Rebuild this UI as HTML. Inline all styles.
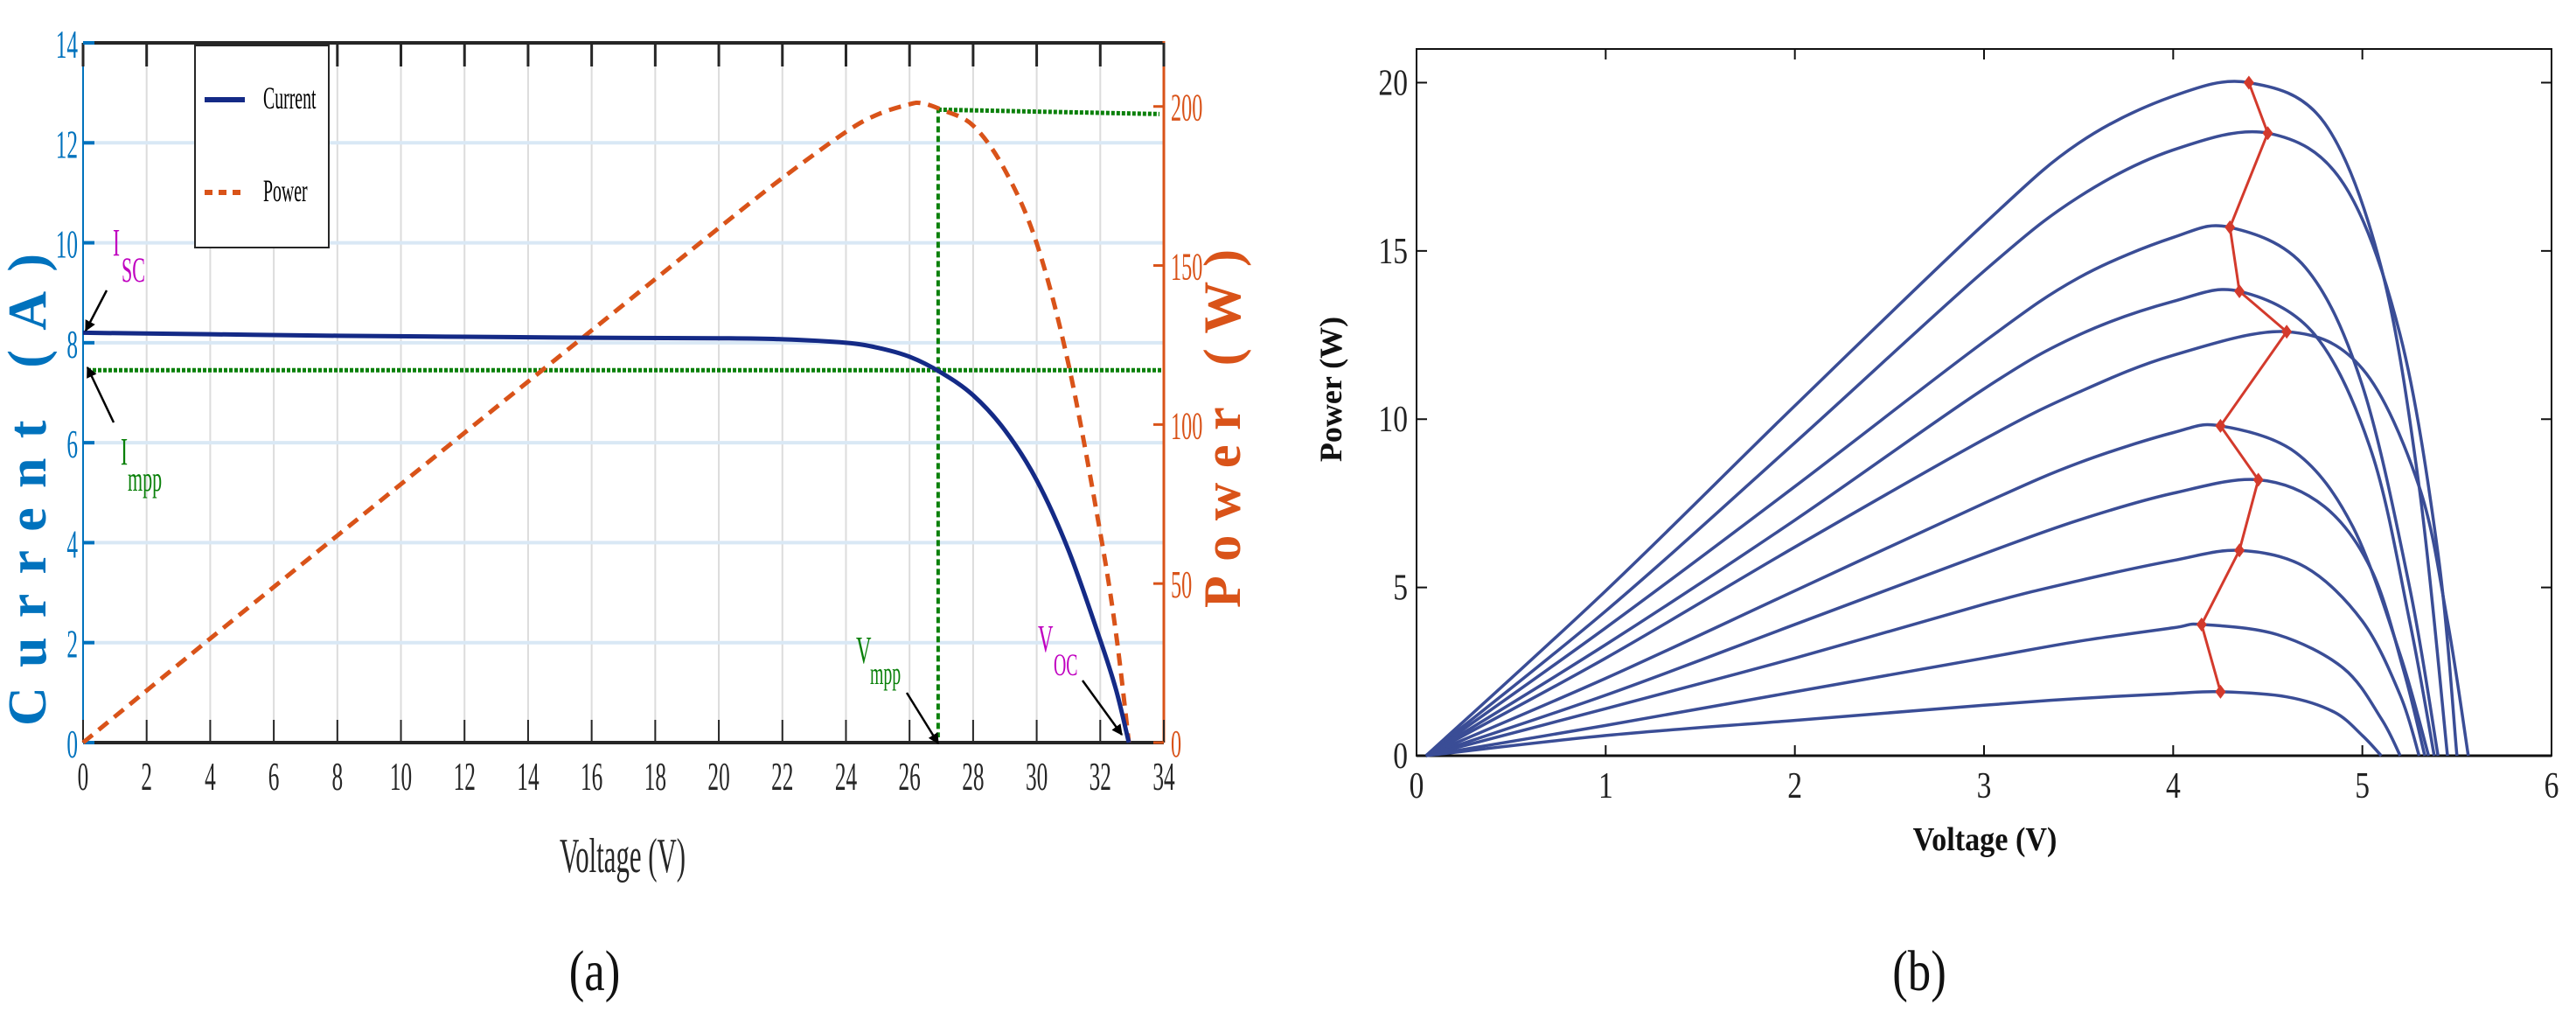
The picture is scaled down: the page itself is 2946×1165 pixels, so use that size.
<!DOCTYPE html>
<html><head><meta charset="utf-8"><style>
html,body{margin:0;padding:0;background:#fff;}
svg{display:block;}
text{font-family:"Liberation Serif",serif;}
</style></head><body>
<svg id="fig" width="2946" height="1165" viewBox="0 0 2946 1165" xmlns="http://www.w3.org/2000/svg">
<g id="chartA"></g>
<g id="chartB"></g>
</svg>
<script>
// ---------- Chart (a) data ----------
const aCurV = [0,4,8,12,16,20,22,24,25,26,27,28,29,30,31,32,32.5,32.9];
const aCurI = [8.2,8.17,8.14,8.12,8.1,8.09,8.07,8.0,7.9,7.72,7.4,6.95,6.25,5.25,3.85,2.05,1.05,0];
const aPowV = [0,4,8,12,16,20,22,24,25,26,26.4,27,28,29,30,31,32,32.5,32.9];
const aPowP = [0,32.7,65.1,97.4,129.6,161.8,177.5,192,197.5,200.7,201,199,194,180,157,119,66,34,0];
const aXTicks = [0,2,4,6,8,10,12,14,16,18,20,22,24,26,28,30,32,34];
const aYTicks = [0,2,4,6,8,10,12,14];
const aY2Ticks = [0,50,100,150,200];
const aImpp = [7.45];
const aVmpp = [26.9];
const aPmpp = [199];
// ---------- Chart (b) data ----------
const bCurveV = [
 [0.05,1,2,3,3.5,4,4.4,4.8,5.1,5.3,5.45],
 [0.05,1,2,3,3.5,4,4.5,4.9,5.2,5.4,5.5],
 [0.05,1,2,3,3.5,4,4.3,4.7,5.0,5.25,5.4],
 [0.05,1,2,3,3.5,4,4.35,4.75,5.05,5.25,5.38],
 [0.05,1,2,3,3.5,4,4.6,5.0,5.3,5.45,5.56],
 [0.05,1,2,3,3.5,4,4.25,4.65,4.95,5.2,5.35],
 [0.05,1,2,3,3.5,4,4.45,4.8,5.05,5.22,5.33],
 [0.05,1,2,3,3.5,4,4.35,4.7,5.0,5.2,5.3],
 [0.05,1,2,3,3.5,4,4.15,4.55,4.9,5.1,5.2],
 [0.05,1,2,3,3.5,4,4.25,4.6,4.85,5.0,5.1]
];
const bCurveP = [
 [0,4.9,10.4,15.8,18.2,19.6,20,18.8,14.5,8,0],
 [0,4.3,9.3,14.4,16.6,18,18.5,17,12.5,6,0],
 [0,3.8,8.0,12.3,14.2,15.4,15.7,14.5,11,5,0],
 [0,3.3,7.0,10.9,12.5,13.5,13.8,12.5,9,4,0],
 [0,2.9,6.2,9.4,10.8,11.9,12.6,11.5,8,4,0],
 [0,2.3,4.9,7.5,8.7,9.6,9.8,9,6.8,3,0],
 [0,1.8,3.9,6.0,7.0,7.8,8.2,7.4,5.5,2.5,0],
 [0,1.4,2.9,4.5,5.2,5.8,6.1,5.6,4.0,1.8,0],
 [0,0.9,1.9,2.9,3.4,3.8,3.9,3.6,2.6,1.1,0],
 [0,0.6,1.05,1.5,1.7,1.85,1.9,1.75,1.3,0.6,0]
];
const bMppV = [4.4,4.5,4.3,4.35,4.6,4.25,4.45,4.35,4.15,4.25];
const bMppP = [20,18.5,15.7,13.8,12.6,9.8,8.2,6.1,3.9,1.9];
const bXTicks = [0,1,2,3,4,5,6];
const bYTicks = [0,5,10,15,20];

const NS = "http://www.w3.org/2000/svg";
function mk(tag, attrs, parent){ const e=document.createElementNS(NS,tag); for(const k in attrs) e.setAttribute(k,attrs[k]); parent.appendChild(e); return e; }
function txt(parent, s, x, y, size, fill, anchor, sx, weight){
  const t=mk('text',{x:0,y:0,'font-size':size,fill:fill,'text-anchor':anchor||'middle',transform:`translate(${x},${y}) scale(${sx||1},1)`,'font-weight':weight||'normal'},parent);
  t.textContent=s; return t;
}
function spline(pts){
  let d=`M${pts[0][0]},${pts[0][1]}`;
  for(let i=0;i<pts.length-1;i++){
    const p0=pts[Math.max(0,i-1)],p1=pts[i],p2=pts[i+1],p3=pts[Math.min(pts.length-1,i+2)];
    const c1=[p1[0]+(p2[0]-p0[0])/6,p1[1]+(p2[1]-p0[1])/6];
    const c2=[p2[0]-(p3[0]-p1[0])/6,p2[1]-(p3[1]-p1[1])/6];
    d+=` C${c1[0]},${c1[1]} ${c2[0]},${c2[1]} ${p2[0]},${p2[1]}`;
  }
  return d;
}

// ================= Chart A =================
(function(){
  const g=document.getElementById('chartA');
  const L=95,R=1331,T=49,B=849;
  const xS=v=>L+(v-0)/34*(R-L);
  const yS=i=>B-i/14*(B-T);
  const y2S=p=>B-p/220*(B-T);
  aXTicks.forEach(v=>{ if(v>0&&v<34){ const l=mk('line',{x1:xS(v),x2:xS(v),y1:T,y2:B,stroke:'#dcdcdc','stroke-width':2},g);
      }});
  aYTicks.forEach(v=>{ if(v>0&&v<14){ const l=mk('line',{x1:L,x2:R,y1:yS(v),y2:yS(v),stroke:'#d9e8f5','stroke-width':4},g);
      }});
  let e=mk('line',{x1:L,x2:R,y1:T,y2:T,stroke:'#262626','stroke-width':4},g);  
  e=mk('line',{x1:L,x2:R,y1:B,y2:B,stroke:'#262626','stroke-width':4},g);  
  e=mk('line',{x1:L,x2:L,y1:T,y2:B,stroke:'#0072bd','stroke-width':2},g);  
  e=mk('line',{x1:R,x2:R,y1:T-2,y2:B,stroke:'#d95319','stroke-width':3},g);  
  aXTicks.forEach(v=>{
    let t=mk('line',{x1:xS(v),x2:xS(v),y1:T,y2:T+27,stroke:'#262626','stroke-width':3},g);  
    t=mk('line',{x1:xS(v),x2:xS(v),y1:B,y2:B-26,stroke:'#262626','stroke-width':2},g);  
    const lb=txt(g,String(v),xS(v),903,46,'#262626','middle',0.55);
     
  });
  aYTicks.forEach(v=>{
    const t=mk('line',{x1:L,x2:L+13,y1:yS(v),y2:yS(v),stroke:'#0072bd','stroke-width':4},g);  
    const lb=txt(g,String(v),L-6,yS(v)+17,46,'#0072bd','end',0.55);
     
  });
  aY2Ticks.forEach(v=>{
    const t=mk('line',{x1:R-12,x2:R,y1:y2S(v),y2:y2S(v),stroke:'#d95319','stroke-width':3},g);  
    const lb=txt(g,String(v),R+8,y2S(v)+16,44,'#d95319','start',0.55);
     
  });
  let t=txt(g,'Voltage (V)',712,997,56,'#262626','middle',0.55);  
  t=mk('text',{x:0,y:0,'font-size':62,'font-weight':'bold',fill:'#0072bd','text-anchor':'middle',textLength:540,lengthAdjust:'spacing',transform:'translate(52,560) rotate(-90)'},g);
  t.textContent='Current (A)';  
  t=mk('text',{x:0,y:0,'font-size':60,'font-weight':'bold',fill:'#d95319','text-anchor':'middle',textLength:410,lengthAdjust:'spacing',transform:'translate(1418,490) rotate(-90)'},g);
  t.textContent='Power (W)';  
  t=txt(g,'(a)',680,1132,66,'#111','middle',0.8);  
  e=mk('line',{x1:L+5,x2:R-3,y1:yS(aImpp[0]),y2:yS(aImpp[0]),stroke:'#0a800a','stroke-width':5,'stroke-dasharray':'4 2'},g);  
  e=mk('line',{x1:xS(aVmpp[0]),x2:xS(aVmpp[0]),y1:y2S(aPmpp[0])-3,y2:B-6,stroke:'#0a800a','stroke-width':4,'stroke-dasharray':'7 4'},g);  
  e=mk('line',{x1:xS(aVmpp[0]),x2:R-5,y1:y2S(aPmpp[0]),y2:y2S(aPmpp[0])+5,stroke:'#0a800a','stroke-width':5,'stroke-dasharray':'4 2'},g);  
  e=mk('path',{d:spline(aPowV.map((v,i)=>[xS(v),y2S(aPowP[i])])),fill:'none',stroke:'#d95319','stroke-width':5,'stroke-dasharray':'14 9'},g);
   
  e=mk('path',{d:spline(aCurV.map((v,i)=>[xS(v),yS(aCurI[i])])),fill:'none',stroke:'#142a86','stroke-width':5},g);
   
  const lg=mk('g',{},g);  
  mk('rect',{x:223,y:52,width:153,height:231,fill:'#fff',stroke:'#262626','stroke-width':2},lg);
  mk('line',{x1:234,x2:280,y1:114,y2:114,stroke:'#142a86','stroke-width':6},lg);
  mk('line',{x1:234,x2:280,y1:220,y2:220,stroke:'#d95319','stroke-width':6,'stroke-dasharray':'9 7'},lg);
  t=txt(lg,'Current',301,124,36,'#000','start',0.55);  
  t=txt(lg,'Power',301,230,36,'#000','start',0.55);  
  mk('defs',{},g).innerHTML='<marker id="ah" viewBox="0 0 10 10" refX="9" refY="5" markerWidth="5" markerHeight="5" orient="auto"><path d="M0,0 L10,5 L0,10 z" fill="#000"/></marker>';
  const arrows=[[122,332,98,378],[130,483,100,420],[1037,792,1073,850],[1238,778,1283,840]];
  arrows.forEach(a=>{ const l=mk('line',{x1:a[0],y1:a[1],x2:a[2],y2:a[3],stroke:'#000','stroke-width':2.5,'marker-end':'url(#ah)'},g);   });
  const ann=[['I',129,292,'#c000c0',44],['SC',139,322,'#c000c0',40],['I',138,531,'#0a800a',44],['mpp',146,561,'#0a800a',40],
             ['V',979,758,'#0a800a',44],['mpp',995,782,'#0a800a',36],['V',1187,745,'#c000c0',44],['OC',1205,772,'#c000c0',36]];
  ann.forEach(a=>{ const tt=txt(g,a[0],a[1],a[2],a[4],a[3],'start',0.55);   });
})();

// ================= Chart B =================
(function(){
  const g=document.getElementById('chartB');
  const L=1620,R=2918,T=56,B=864;
  const xS=v=>L+v/6*(R-L);
  const yS=p=>B-p/21*(B-T);
  let e=mk('rect',{x:L,y:T,width:R-L,height:B-T,fill:'none',stroke:'#111','stroke-width':2},g);
   
  e=mk('line',{x1:L,x2:R,y1:B,y2:B,stroke:'#111','stroke-width':3},g);  
  bXTicks.forEach(v=>{
    let t=mk('line',{x1:xS(v),x2:xS(v),y1:B,y2:B-12,stroke:'#111','stroke-width':2},g);  
    t=mk('line',{x1:xS(v),x2:xS(v),y1:T,y2:T+12,stroke:'#111','stroke-width':2},g);  
    const lb=txt(g,String(v),xS(v),912,42,'#222','middle',0.8);  
  });
  bYTicks.forEach(v=>{
    let t=mk('line',{x1:L,x2:L+12,y1:yS(v),y2:yS(v),stroke:'#111','stroke-width':2},g);  
    t=mk('line',{x1:R,x2:R-12,y1:yS(v),y2:yS(v),stroke:'#111','stroke-width':2},g);  
    const lb=txt(g,String(v),L-10,yS(v)+14,42,'#222','end',0.8);  
  });
  let t=txt(g,'Voltage (V)',2270,972,38,'#111','middle',0.9,'bold');  
  t=mk('text',{x:0,y:0,'font-size':36,'font-weight':'bold',fill:'#111','text-anchor':'middle',transform:'translate(1534,445) rotate(-90)'},g);
  t.textContent='Power (W)';  
  t=txt(g,'(b)',2195,1132,66,'#111','middle',0.8);  
  bCurveV.forEach((vs,ci)=>{
    const p=mk('path',{d:spline(vs.map((v,i)=>[xS(v),yS(bCurveP[ci][i])])),fill:'none',stroke:'#3a4d96','stroke-width':3.5},g);
    
    
  });
  const pl=mk('polyline',{points:bMppV.map((v,i)=>`${xS(v)},${yS(bMppP[i])}`).join(' '),fill:'none',stroke:'#d33a2c','stroke-width':3},g);
   
  bMppV.forEach((v,i)=>{
    const x=xS(v),y=yS(bMppP[i]);
    const m=mk('path',{d:`M${x},${y-8} L${x+6},${y} L${x},${y+8} L${x-6},${y} Z`,fill:'#d33a2c'},g);
    
    
  });
})();
</script>
</body></html>
